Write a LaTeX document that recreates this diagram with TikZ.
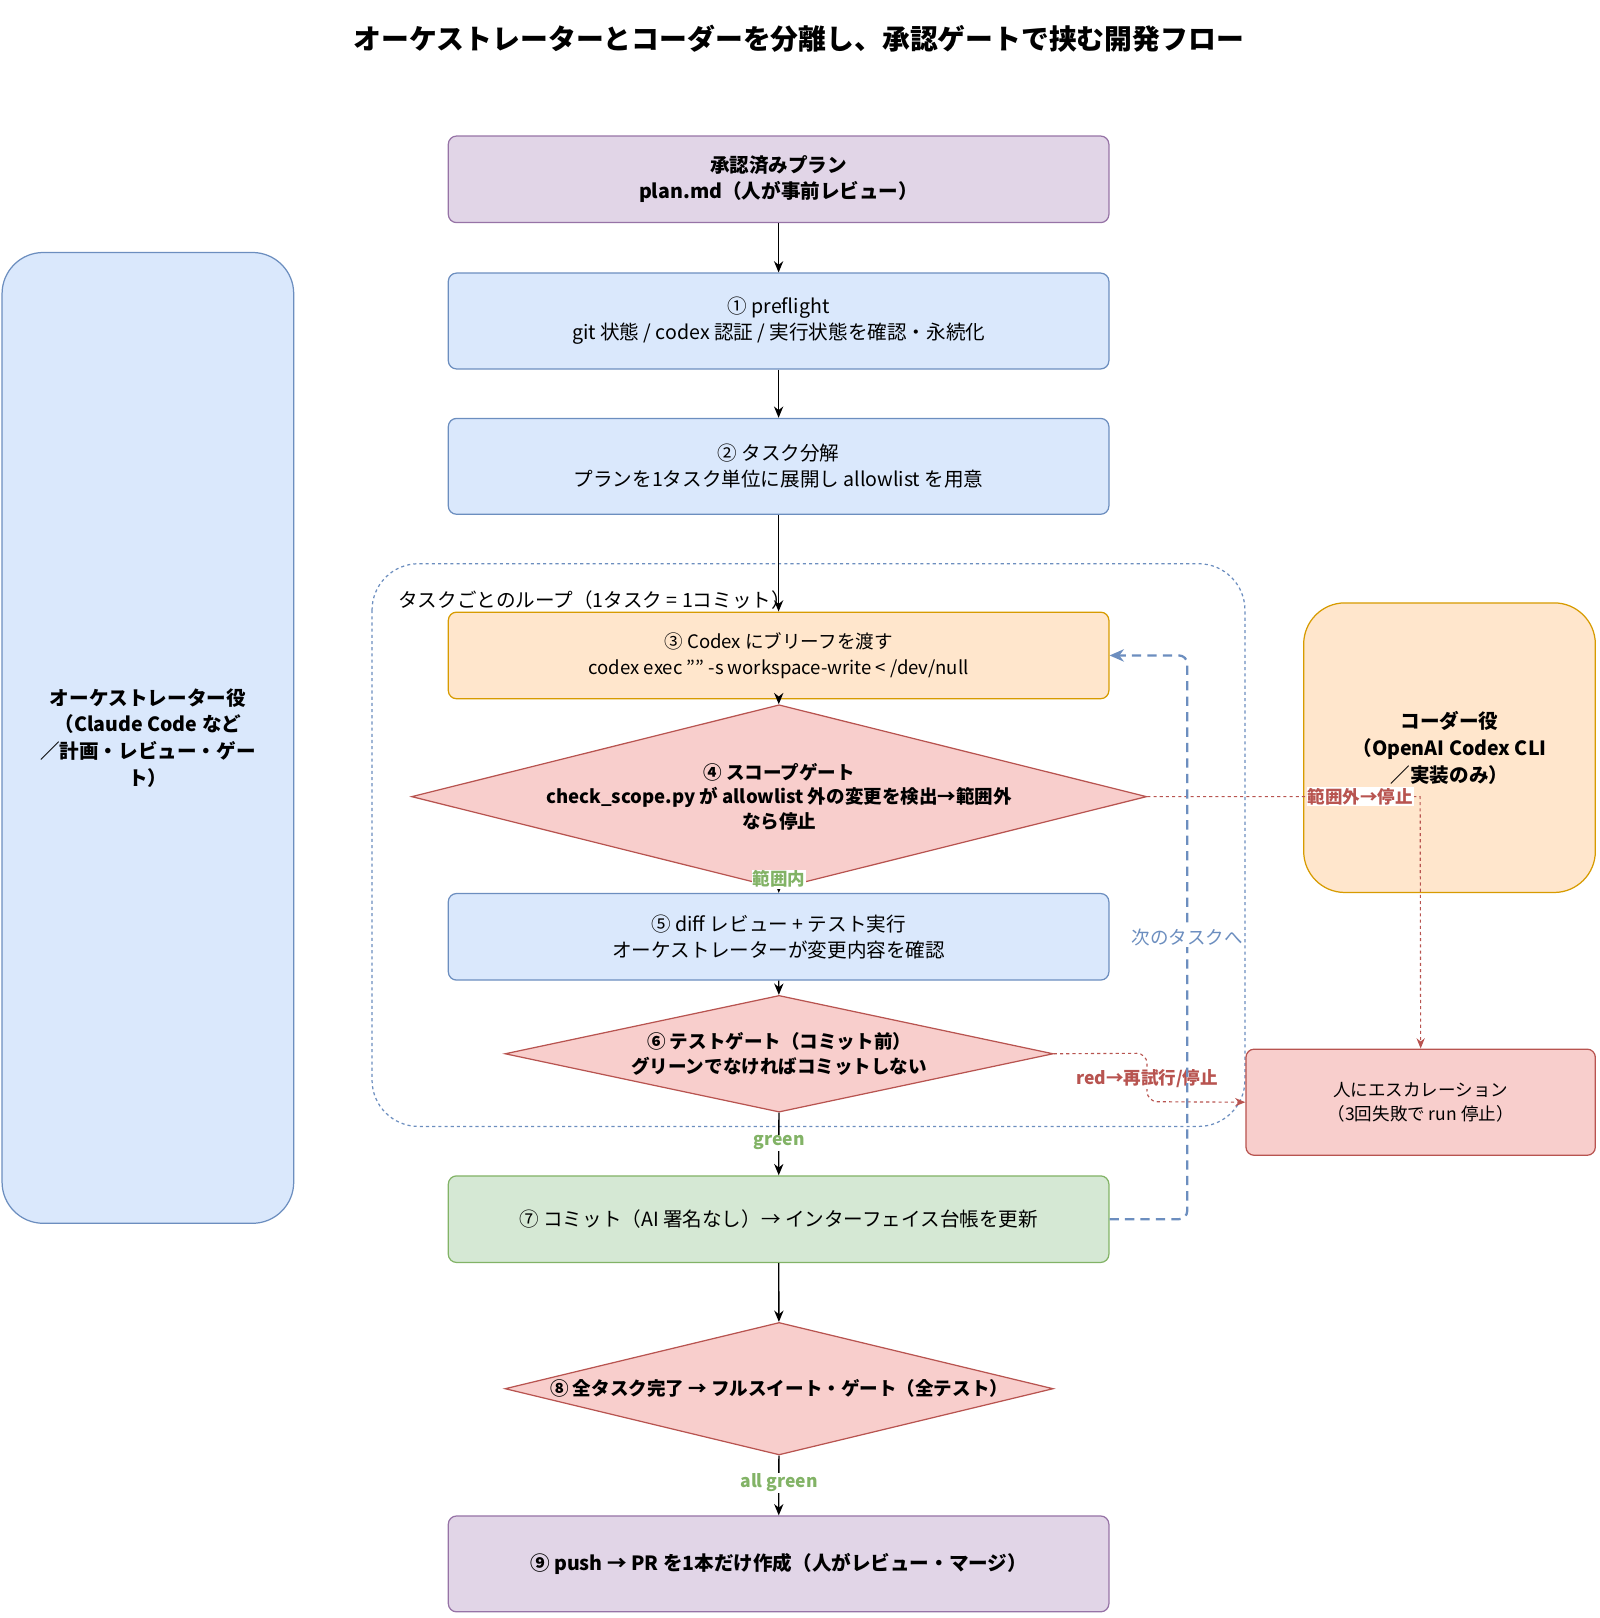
\documentclass[tikz,border=0pt]{standalone}
\usepackage{fontspec}
\setmainfont{Noto Sans CJK JP}
\usetikzlibrary{arrows.meta,shapes.geometric}
\definecolor{pf}{HTML}{E1D5E7}\definecolor{ps}{HTML}{9673A6}
\definecolor{bf}{HTML}{DAE8FC}\definecolor{bs}{HTML}{6C8EBF}
\definecolor{of}{HTML}{FFE6CC}\definecolor{os}{HTML}{D79B00}
\definecolor{rf}{HTML}{F8CECC}\definecolor{rs}{HTML}{B85450}
\definecolor{gf}{HTML}{D5E8D4}\definecolor{gs}{HTML}{82B366}
\begin{document}
\begin{tikzpicture}[x=1pt,y=-1pt,
 box/.style={draw,rounded corners=8pt,line width=1.2pt,align=center,minimum width=641pt,font=\fontsize{19}{25}\selectfont},
 gate/.style={draw=rs,fill=rf,diamond,aspect=4,line width=1.2pt,inner sep=0pt,align=center,font=\fontsize{18}{24}\selectfont\bfseries},
 arr/.style={-{Stealth[length=11pt,width=9pt]},line width=1.3pt},
 lab/.style={font=\fontsize{17}{20}\selectfont\bfseries}]
\useasboundingbox (0,0) rectangle (1552,1570);
\node[font=\fontsize{27}{32}\selectfont\bfseries] (title) at (775,38) {オーケストレーターとコーダーを分離し、承認ゲートで挟む開発フロー};
% left and right role boxes
\node[draw=bs,fill=bf,line width=1.2pt,rounded corners=40pt,minimum width=283pt,minimum height=942pt,align=center,font=\fontsize{19}{26}\selectfont\bfseries] (orch) at (143.5,716) {オーケストレーター役\\（Claude Code など\\／計画・レビュー・ゲー\\ト）};
\node[draw=os,fill=of,line width=1.2pt,rounded corners=40pt,minimum width=283pt,minimum height=281pt,align=center,font=\fontsize{19}{26}\selectfont\bfseries] (coder) at (1406.5,725.5) {コーダー役\\（OpenAI Codex CLI\\／実装のみ）};
% loop
\draw[bs,dashed,line width=1.2pt,rounded corners=45pt] (361,547) rectangle (1208,1093);
\node[anchor=west,font=\fontsize{19}{24}\selectfont\itshape] (looplab) at (383,582) {タスクごとのループ（1タスク = 1コミット）};
% main boxes
\node[box,draw=ps,fill=pf,minimum height=84pt,font=\fontsize{19}{25}\selectfont\bfseries] (plan) at (755.5,174) {承認済みプラン\\plan.md（人が事前レビュー）};
\node[box,draw=bs,fill=bf,minimum height=93pt] (s1) at (755.5,311.5) {① preflight\\git 状態 / codex 認証 / 実行状態を確認・永続化};
\node[box,draw=bs,fill=bf,minimum height=93pt] (s2) at (755.5,452.5) {② タスク分解\\プランを1タスク単位に展開し allowlist を用意};
\node[box,draw=os,fill=of,minimum height=84pt,font=\fontsize{18}{25}\selectfont] (s3) at (755.5,636) {③ Codex にブリーフを渡す\\codex exec "" -s workspace-write < /dev/null};
\node[gate,minimum width=532pt,minimum height=130pt] (s4) at (756,773) {④ スコープゲート\\check\_scope.py が allowlist 外の変更を検出→範囲外\\なら停止};
\node[box,draw=bs,fill=bf,minimum height=84pt] (s5) at (755.5,909) {⑤ diff レビュー + テスト実行\\オーケストレーターが変更内容を確認};
\node[gate,minimum width=532pt,minimum height=103pt] (s6) at (756,1022.5) {⑥ テストゲート（コミット前）\\グリーンでなければコミットしない};
\node[box,draw=gs,fill=gf,minimum height=84pt] (s7) at (755.5,1183) {⑦ コミット（AI 署名なし）→ インターフェイス台帳を更新};
\node[gate,minimum width=532pt,minimum height=113pt] (s8) at (756,1347.5) {⑧ 全タスク完了 → フルスイート・ゲート（全テスト）};
\node[box,draw=ps,fill=pf,minimum height=93pt,font=\fontsize{19}{25}\selectfont\bfseries] (s9) at (755.5,1517.5) {⑨ push → PR を1本だけ作成（人がレビュー・マージ）};
\node[draw=rs,fill=rf,line width=1.2pt,rounded corners=8pt,minimum width=339pt,minimum height=103pt,align=center,font=\fontsize{17}{23}\selectfont] (esc) at (1378.5,1069.5) {人にエスカレーション\\（3回失敗で run 停止）};
% arrows
\draw[arr] (plan) -- (s1);
\draw[arr] (s1) -- (s2);
\draw[arr] (s2) -- (s3);
\draw[arr] (s3) -- (s4);
\draw[arr] (s4) -- (s5);
\draw[arr] (s5) -- (s6);
\draw[arr] (s6) -- (s7);
\draw[arr] (s7) -- (s8);
\draw[arr] (s8) -- (s9);
\node[lab,text=gs,fill=white,inner sep=1pt] (l1) at (756,853) {範囲内};
\node[lab,text=gs,fill=white,inner sep=1pt] (l2) at (756,1109) {green};
\node[lab,text=gs,fill=white,inner sep=1pt] (l3) at (756,1439) {all green};
% red dashed
\coordinate (c1) at (1378,773);
\draw[rs,dashed,line width=1.1pt,-{Stealth[length=10pt,width=8pt]}] (s4.east) -- (c1) -- (esc.north);
\node[lab,text=rs,fill=white,inner sep=1pt] (l4) at (1320,773) {範囲外→停止};
\coordinate (c2) at (1113,1022);\coordinate (c3) at (1113,1069);
\draw[rs,dashed,line width=1.1pt,rounded corners=10pt,-{Stealth[length=10pt,width=8pt]}] (s6.east) -- (c2) -- (c3) -- (esc.west);
\node[lab,text=rs,fill=white,inner sep=1pt] (l5) at (1113,1047) {red→再試行/停止};
% blue loop back
\coordinate (c4) at (1152,1183);\coordinate (c5) at (1152,636);
\draw[bs,dashed,line width=2.2pt,dash pattern=on 9pt off 6pt,rounded corners=8pt,-{Stealth[length=14pt,width=12pt]}] (s7.east) -- (c4) -- (c5) -- (s3.east);
\node[font=\fontsize{18}{22}\selectfont,text=bs,fill=white,inner sep=1pt] (l6) at (1152,910) {次のタスクへ};
\end{tikzpicture}
\end{document}
